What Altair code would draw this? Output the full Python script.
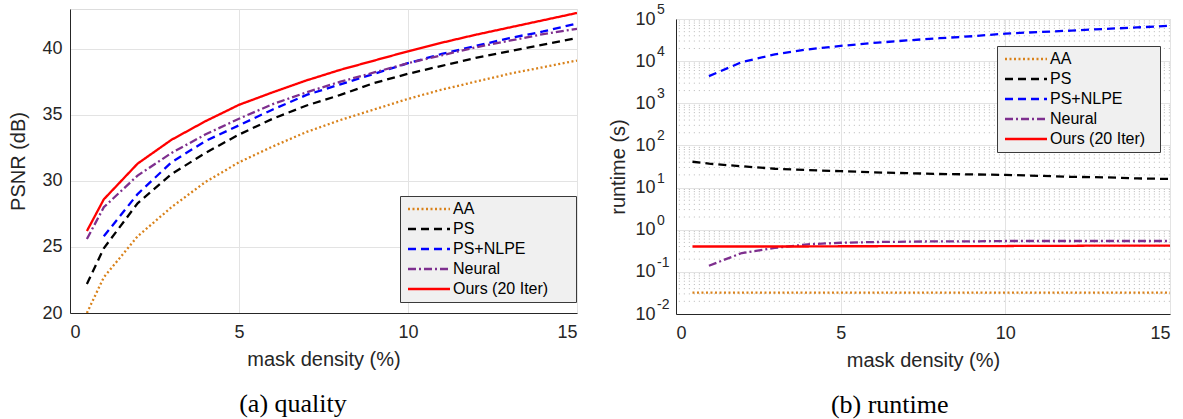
import altair as alt
import pandas as pd

series = ["AA", "PS", "PS+NLPE", "Neural", "Ours (20 Iter)"]
colors = ["#d9821b", "#000000", "#0000ff", "#7e2f8e", "#ff0000"]
dashes = [[2, 2.5], [8, 5], [8, 5], [8, 3, 2, 3], [1, 0]]

density = [0.5, 1, 2, 3, 4, 5, 6, 7, 8, 9, 10, 11, 12, 13, 14, 15]

# (a) quality: PSNR (dB)
psnr_aa = [20.0, 22.7, 25.8, 28.0, 29.9, 31.4, 32.6, 33.7, 34.6, 35.4, 36.2, 36.9, 37.5, 38.1, 38.6, 39.1]
psnr_ps = [22.2, 24.9, 28.3, 30.5, 32.1, 33.5, 34.7, 35.7, 36.5, 37.4, 38.1, 38.7, 39.3, 39.8, 40.3, 40.8]
psnr_nlpe = [None, 25.8, 29.0, 31.4, 33.0, 34.2, 35.4, 36.5, 37.3, 38.1, 38.9, 39.6, 40.2, 40.8, 41.3, 41.9]
psnr_neural = [25.6, 28.0, 30.4, 32.1, 33.5, 34.7, 35.8, 36.7, 37.5, 38.2, 38.9, 39.5, 40.1, 40.6, 41.1, 41.5]
psnr_ours = [26.2, 28.6, 31.3, 33.1, 34.5, 35.75, 36.7, 37.6, 38.4, 39.1, 39.8, 40.45, 41.05, 41.6, 42.15, 42.7]

# (b) runtime (s)
rt_aa = [0.032, 0.032, 0.032, 0.032, 0.032, 0.032, 0.032, 0.032, 0.032, 0.032, 0.032, 0.032, 0.032, 0.032, 0.032, 0.032]
rt_ps = [41, 37, 32, 28, 26, 24.5, 23, 22, 21, 20.5, 20, 19, 18, 17.5, 16.5, 16]
rt_nlpe = [None, 4400, 9500, 14500, 19000, 23000, 27000, 31000, 35000, 39000, 45000, 49000, 53000, 58000, 63000, 69000]
rt_neural = [None, 0.14, 0.28, 0.37, 0.45, 0.49, 0.51, 0.52, 0.53, 0.53, 0.54, 0.54, 0.54, 0.54, 0.54, 0.54]
rt_ours = [0.40, 0.40, 0.40, 0.40, 0.40, 0.405, 0.405, 0.41, 0.41, 0.41, 0.41, 0.415, 0.415, 0.42, 0.42, 0.42]

psnr_tick_values = [20, 25, 30, 35, 40]
x_tick_values = [0, 5, 10, 15]
rt_tick_values = [1e-2, 1e-1, 1e0, 1e1, 1e2, 1e3, 1e4, 1e5]
rt_tick_exponents = ["-2", "-1", "0", "1", "2", "3", "4", "5"]
minor_grid = [m * 10.0 ** k for k in range(-2, 5) for m in range(2, 10)]


def long_table(cols, name):
    rows = []
    for s, vals in zip(series, cols):
        for d, v in zip(density, vals):
            if v is not None:
                rows.append({"density": d, name: v, "method": s})
    return pd.DataFrame(rows)


df_q = long_table([psnr_aa, psnr_ps, psnr_nlpe, psnr_neural, psnr_ours], "psnr")
df_r = long_table([rt_aa, rt_ps, rt_nlpe, rt_neural, rt_ours], "runtime")
df_minor = pd.DataFrame({"v": minor_grid})
df_exp = pd.DataFrame({"v": rt_tick_values, "e": rt_tick_exponents})

SANS = "Liberation Sans"
TXT = "#262626"
GRID = "#e3e3e3"
LW = 2.3


def axis(title, values, **kw):
    return alt.Axis(
        title=title, values=values, ticks=False, grid=True, gridColor=GRID,
        domainColor=TXT, domainWidth=1, labelColor=TXT, labelFont=SANS,
        labelFontSize=18, titleFont=SANS, titleFontSize=20, titleFontWeight="normal",
        titleColor=TXT, **kw)


def legend(lx, ly, npad):
    pad = "\u00a0" * npad + "\u200b"
    return alt.Legend(
        title=None, orient="none", legendX=lx, legendY=ly,
        symbolType="M-5.25,0H5.25", symbolSize=64, symbolStrokeWidth=LW,
        symbolOffset=16, labelOffset=16, labelFont=SANS, labelFontSize=16,
        labelColor="#000000", fillColor="#f0f0f0", strokeColor="#3a3a3a",
        padding=5, rowPadding=4,
        labelExpr="datum.label + '" + pad + "'")


def enc_style(lx, ly, npad):
    return dict(
        color=alt.Color("method:N", scale=alt.Scale(domain=series, range=colors),
                        legend=legend(lx, ly, npad)),
        strokeDash=alt.StrokeDash("method:N", scale=alt.Scale(domain=series, range=dashes),
                                  legend=legend(lx, ly, npad)),
    )


xscale = alt.Scale(domain=[0, 15], nice=False, zero=False)

left = alt.Chart(df_q).mark_line(strokeWidth=LW, clip=True).encode(
    x=alt.X("density:Q", scale=xscale,
            axis=axis("mask density (%)", x_tick_values, labelPadding=10, titlePadding=8)),
    y=alt.Y("psnr:Q", scale=alt.Scale(domain=[20, 43], nice=False, zero=False),
            axis=axis("PSNR (dB)", psnr_tick_values, labelPadding=8, titlePadding=13)),
    **enc_style(330, 187, 5),
).properties(
    width=507, height=304,
    title=alt.TitleParams("(a) quality", orient="bottom", font="Liberation Serif",
                          fontSize=26, fontWeight="normal", color="#000000",
                          offset=22, frame="bounds", anchor="middle"),
)

rscale = alt.Scale(type="log", domain=[1e-2, 1e5], nice=False)

x_axis_r = axis("mask density (%)", x_tick_values, labelPadding=10, titlePadding=8)
y_axis_r = axis("runtime (s)", rt_tick_values, labelPadding=21, titlePadding=6,
                labelExpr="'10'")

minor = alt.Chart(df_minor).mark_rule(color="#c4c4c4", strokeWidth=1, strokeDash=[1.2, 3.8]).encode(
    y=alt.Y("v:Q", scale=rscale, axis=y_axis_r)
)

exponents = alt.Chart(df_exp).mark_text(
    align="left", baseline="middle", dy=-9, font=SANS, fontSize=14, color=TXT
).encode(
    x=alt.value(-19),
    y=alt.Y("v:Q", scale=rscale, axis=y_axis_r),
    text="e:N",
)

lines_r = alt.Chart(df_r).mark_line(strokeWidth=LW, clip=True).encode(
    x=alt.X("density:Q", scale=xscale, axis=x_axis_r),
    y=alt.Y("runtime:Q", scale=rscale, axis=y_axis_r),
    **enc_style(321, 27, 2),
)

right = alt.layer(minor, exponents, lines_r).properties(
    width=494, height=295,
    title=alt.TitleParams("(b) runtime", orient="bottom", font="Liberation Serif",
                          fontSize=26, fontWeight="normal", color="#000000",
                          offset=22, frame="bounds", anchor="middle"),
)

spacer = alt.Chart(pd.DataFrame({"a": [0]})).mark_point(opacity=0).properties(width=494, height=10)

right_col = alt.vconcat(spacer, right, spacing=0, bounds="flush").resolve_scale(
    color="independent", strokeDash="independent").resolve_legend(
    color="independent", strokeDash="independent")

chart = alt.hconcat(left, right_col, spacing=99, bounds="flush").resolve_scale(
    color="independent", strokeDash="independent").resolve_legend(
    color="independent", strokeDash="independent").properties(
    padding={"left": 8, "top": 2, "right": 2, "bottom": 0}
).configure_view(stroke=None).configure(background="white")

chart.save("out.html", embed_options={"renderer": "svg", "actions": False})
